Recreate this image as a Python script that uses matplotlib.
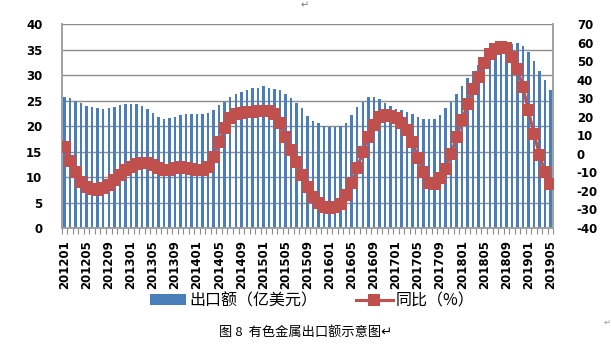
import numpy as np
import pandas as pd
import matplotlib
matplotlib.use('Agg')
import matplotlib.pyplot as plt
from matplotlib.lines import Line2D
from matplotlib.patches import Patch

plt.rcParams['font.family'] = ['Noto Sans CJK SC', 'DejaVu Sans']
plt.rcParams['axes.unicode_minus'] = False

# 月份 201201 - 201905
months = pd.period_range('2012-01', '2019-05', freq='M').strftime('%Y%m').tolist()

# 出口额（亿美元）
export_value = [25.7, 25.5, 25.0, 24.5, 24.0, 23.8, 23.6, 23.4, 23.5, 23.8, 24.2, 24.4,
                24.4, 24.4, 24.0, 23.4, 22.6, 21.8, 21.5, 21.7, 21.9, 22.2, 22.4, 22.4,
                22.4, 22.4, 22.5, 23.2, 24.2, 24.8, 25.7, 26.3, 26.8, 27.2, 27.6, 27.6,
                27.9, 27.6, 27.4, 27.1, 26.3, 25.5, 24.5, 23.5, 22.0, 21.1, 20.6, 20.0,
                19.8, 19.8, 20.0, 20.6, 22.2, 23.7, 24.8, 25.7, 25.7, 25.3, 24.5, 24.0,
                23.4, 23.2, 22.8, 22.4, 21.9, 21.5, 21.4, 21.4, 22.2, 23.5, 24.8, 26.3,
                27.9, 29.4, 30.9, 32.0, 33.0, 34.0, 34.8, 35.6, 36.0, 36.1, 36.3, 35.8,
                34.6, 32.9, 30.9, 29.1, 27.2]

# 同比（%）
yoy = [4.0, -3.8, -9.6, -15.0, -17.7, -19.1, -19.5, -18.6, -16.8, -14.1, -11.4, -8.7,
       -6.9, -5.4, -4.7, -5.1, -6.0, -7.7, -8.7, -8.7, -7.8, -7.2, -7.4, -8.1,
       -8.7, -8.7, -6.9, -1.5, 6.6, 13.8, 19.2, 21.4, 21.9, 22.5, 22.8, 23.2,
       23.3, 23.2, 21.4, 16.5, 9.3, 2.1, -4.5, -11.4, -17.7, -23.1, -26.7, -28.5,
       -29.0, -28.5, -27.2, -22.2, -15.9, -7.8, 1.2, 9.3, 15.6, 20.1, 21.0, 20.6,
       19.2, 17.0, 13.0, 6.7, -2.2, -9.7, -15.7, -16.2, -13.2, -8.1, 0.1, 9.2,
       18.5, 26.9, 35.0, 41.8, 49.0, 54.0, 56.5, 57.6, 57.1, 52.6, 46.0, 36.1,
       23.5, 10.8, -0.3, -9.7, -16.5]

left_ticks = [0, 5, 10, 15, 20, 25, 30, 35, 40]
right_ticks = [-40, -30, -20, -10, 0, 10, 20, 30, 40, 50, 60, 70]

bar_color = '#4a7ebb'
line_color = '#c0504d'
grid_color = '#8c8c8c'

fig = plt.figure(figsize=(6.12, 3.54), dpi=100)
ax = fig.add_axes([0.101, 0.356, 0.803, 0.575])
ax2 = ax.twinx()

x = np.arange(len(months))
ax.bar(x, export_value, width=0.45, color=bar_color, zorder=2)
ax2.plot(x, yoy, color=line_color, lw=2.2, marker='s', markersize=8.5,
         markeredgewidth=0, zorder=3)

ax.set_xlim(-0.5, len(months) - 0.5)
ax.set_ylim(0, 40)
ax2.set_ylim(-40, 70)
ax.set_yticks(left_ticks)
ax2.set_yticks(right_ticks)
ax.yaxis.grid(True, color=grid_color, lw=1.0, zorder=0)
ax.set_axisbelow(True)

# x 轴：每 4 个月一个标签，每个月一个小刻度
ax.set_xticks(x[::4])
ax.set_xticklabels(months[::4], rotation=90, fontsize=8.5, fontweight='bold',
                   family='DejaVu Sans')
ax.set_xticks(np.arange(len(months) + 1) - 0.5, minor=True)
ax.tick_params(axis='x', which='major', length=0, pad=9)
ax.tick_params(axis='x', which='minor', length=4, color=grid_color, width=0.8)

ax.tick_params(axis='y', length=0, pad=14)
ax2.tick_params(axis='y', length=0, pad=17)
for lab in ax.get_yticklabels() + ax2.get_yticklabels():
    lab.set_fontsize(8.5)
    lab.set_fontweight('bold')
    lab.set_family('DejaVu Sans')

for a in (ax, ax2):
    a.spines['top'].set_visible(False)
    for s in ('left', 'right', 'bottom'):
        a.spines[s].set_color('#a0a0a0')
        a.spines[s].set_linewidth(1.2)

handles = [Patch(facecolor=bar_color),
           Line2D([0], [0], color=line_color, lw=2.2, marker='s', markersize=8.5,
                  markeredgewidth=0)]
fig.legend(handles, ['出口额（亿美元）', '同比（%）'], loc='center',
           bbox_to_anchor=(0.51, 0.15), ncol=2, frameon=False,
           prop={'family': 'Noto Sans CJK SC', 'size': 11.5}, handlelength=2.3,
           columnspacing=2.4, handletextpad=0.2)

fig.text(0.5, 0.062, '图 8  有色金属出口额示意图↵', ha='center', va='center',
         fontsize=9.5, family=['Noto Sans CJK SC', 'DejaVu Sans'])
fig.text(0.497, 0.985, '↵', ha='center', va='center', fontsize=7, color='#777777',
         family='DejaVu Sans')
fig.text(0.998, 0.09, '↵', ha='right', va='center', fontsize=6, color='#999999',
         family='DejaVu Sans')

fig.savefig('out.png', dpi=100)
